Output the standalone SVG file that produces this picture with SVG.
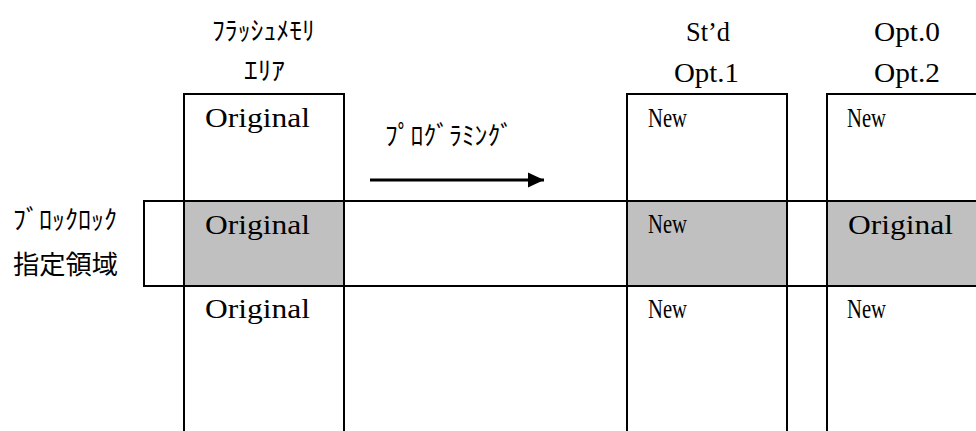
<svg xmlns="http://www.w3.org/2000/svg" width="976" height="431" viewBox="0 0 976 431">
<style>
.bx{fill:none;stroke:#000;stroke-width:2}
.gr{fill:#c0c0c0;stroke:none}
.ln{stroke:#000;stroke-width:2;fill:none}
.lat{font-family:"Liberation Serif","Noto Sans CJK JP",serif;font-size:28px;fill:#000}
.kana{font-family:"Noto Sans CJK JP","Noto Sans CJK SC",sans-serif;font-size:26px;fill:#000}
</style>
<defs>
<marker id="ah" markerWidth="16" markerHeight="16" viewBox="0 0 16 16" refX="16" refY="8" orient="auto" markerUnits="userSpaceOnUse">
<path d="M0,0.5 L16,8 L0,15.5 Z" fill="#000"/>
</marker>
</defs>
<rect x="0" y="0" width="976" height="431" fill="#fff"/>

<!-- gray cells -->
<rect class="gr" x="184" y="201" width="160" height="85"/>
<rect class="gr" x="627" y="201" width="160" height="85"/>
<rect class="gr" x="827" y="201" width="160" height="85"/>

<g id="band">
<rect class="bx" x="144" y="201" width="840" height="85"/>
<text class="kana" x="13" y="229" textLength="104" lengthAdjust="spacingAndGlyphs">ﾌﾞﾛｯｸﾛｯｸ</text>
<text class="kana" x="13" y="274" textLength="105" lengthAdjust="spacingAndGlyphs">指定領域</text>
</g>

<g id="flash">
<path class="ln" d="M184,440 V94 H344 V440"/>
<text class="kana" x="212" y="40" textLength="103" lengthAdjust="spacingAndGlyphs">ﾌﾗｯｼｭﾒﾓﾘ</text>
<text class="kana" x="244" y="80" textLength="41" lengthAdjust="spacingAndGlyphs">ｴﾘｱ</text>
<text class="lat" x="205" y="127" textLength="105" lengthAdjust="spacingAndGlyphs">Original</text>
<text class="lat" x="205" y="234" textLength="105" lengthAdjust="spacingAndGlyphs">Original</text>
<text class="lat" x="205" y="318" textLength="105" lengthAdjust="spacingAndGlyphs">Original</text>
</g>

<g id="std">
<path class="ln" d="M627,440 V94 H787 V440"/>
<text class="lat" x="686" y="41" textLength="44" lengthAdjust="spacingAndGlyphs">St’d</text>
<text class="lat" x="674" y="82" textLength="65" lengthAdjust="spacingAndGlyphs">Opt.1</text>
<text class="lat" x="648" y="127" textLength="39" lengthAdjust="spacingAndGlyphs">New</text>
<text class="lat" x="648" y="233" textLength="39" lengthAdjust="spacingAndGlyphs">New</text>
<text class="lat" x="648" y="318" textLength="39" lengthAdjust="spacingAndGlyphs">New</text>
</g>

<g id="opt">
<path class="ln" d="M827,440 V94 H990"/>
<text class="lat" x="874" y="41" textLength="66" lengthAdjust="spacingAndGlyphs">Opt.0</text>
<text class="lat" x="874" y="82" textLength="66" lengthAdjust="spacingAndGlyphs">Opt.2</text>
<text class="lat" x="847" y="127" textLength="39" lengthAdjust="spacingAndGlyphs">New</text>
<text class="lat" x="848" y="234" textLength="105" lengthAdjust="spacingAndGlyphs">Original</text>
<text class="lat" x="847" y="318" textLength="39" lengthAdjust="spacingAndGlyphs">New</text>
</g>

<g id="connectors">
<line x1="370" y1="180" x2="544" y2="180" stroke="#000" stroke-width="3" marker-end="url(#ah)"/>
<text class="kana" x="385" y="145" textLength="128" lengthAdjust="spacingAndGlyphs">ﾌﾟﾛｸﾞﾗﾐﾝｸﾞ</text>
</g>
</svg>
